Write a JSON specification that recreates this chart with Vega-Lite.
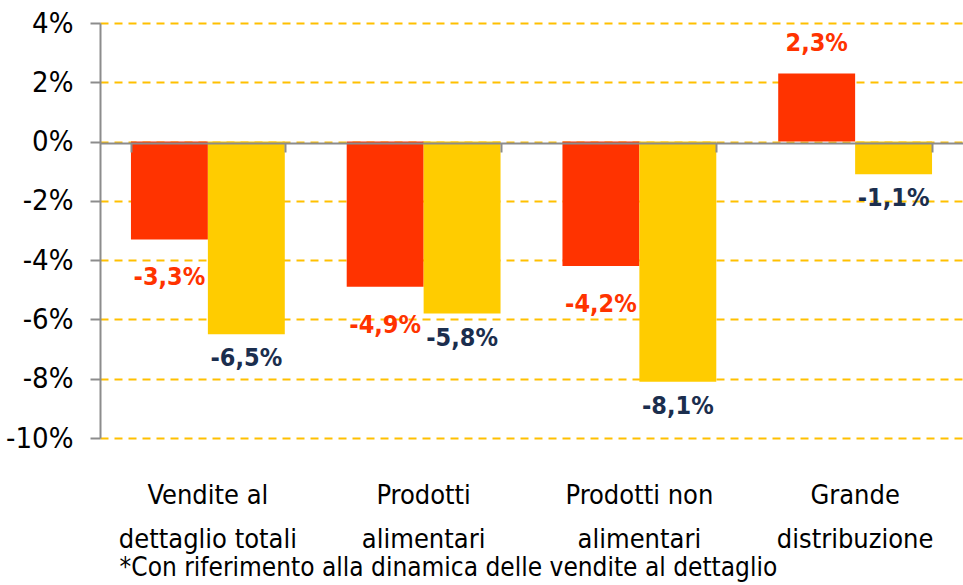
{
  "$schema": "https://vega.github.io/schema/vega-lite/v6.json",
  "width": 863,
  "height": 415,
  "autosize": {"type": "none"},
  "padding": {"left": 100, "top": 23, "right": 0, "bottom": 147},
  "config": {
    "view": {"stroke": null},
    "font": "DejaVu Sans Condensed, sans-serif",
    "locale": {
      "number": {"decimal": ",", "thousands": ".", "grouping": [3], "currency": ["", " €"], "minus": "-", "percent": "%"}
    }
  },
  "title": {
    "text": "*Con riferimento alla dinamica delle vendite al dettaglio",
    "orient": "bottom",
    "anchor": "start",
    "offset": 3,
    "dx": 114,
    "fontSize": 26,
    "fontWeight": "normal",
    "color": "#000000"
  },
  "data": {
    "values": [
      {"categoria": "Vendite al|dettaglio totali", "serie": "serie1", "valore": -0.033},
      {"categoria": "Vendite al|dettaglio totali", "serie": "serie2", "valore": -0.065},
      {"categoria": "Prodotti|alimentari", "serie": "serie1", "valore": -0.049},
      {"categoria": "Prodotti|alimentari", "serie": "serie2", "valore": -0.058},
      {"categoria": "Prodotti non|alimentari", "serie": "serie1", "valore": -0.042},
      {"categoria": "Prodotti non|alimentari", "serie": "serie2", "valore": -0.081},
      {"categoria": "Grande|distribuzione", "serie": "serie1", "valore": 0.023},
      {"categoria": "Grande|distribuzione", "serie": "serie2", "valore": -0.011}
    ]
  },
  "encoding": {
    "x": {
      "field": "categoria",
      "type": "nominal",
      "sort": null,
      "axis": null,
      "scale": {"paddingInner": 0.287, "paddingOuter": 0.1435}
    },
    "xOffset": {"field": "serie", "type": "nominal", "scale": {"paddingInner": 0, "paddingOuter": 0}},
    "y": {
      "field": "valore",
      "type": "quantitative",
      "scale": {"domain": [-0.1, 0.04], "nice": false, "zero": false}
    }
  },
  "layer": [
    {
      "mark": {"type": "bar"},
      "encoding": {
        "x": {
          "field": "categoria",
          "type": "nominal",
          "sort": null,
          "title": null,
          "axis": {
            "orient": "bottom",
            "domain": false,
            "ticks": false,
            "labelAngle": 0,
            "labelFontSize": 27,
            "labelColor": "#000000",
            "labelPadding": 44,
            "labelLineHeight": 44,
            "labelLimit": 0,
            "labelExpr": "split(datum.label, '|')",
            "labelBaseline": "top"
          }
        },
        "y": {
          "field": "valore",
          "type": "quantitative",
          "title": null,
          "axis": {
            "values": [-0.1, -0.08, -0.06, -0.04, -0.02, 0, 0.02, 0.04],
            "format": ".0%",
            "domainColor": "#8c8c8c",
            "domainWidth": 2,
            "tickColor": "#8c8c8c",
            "tickWidth": 2,
            "tickSize": 10,
            "labelFontSize": 29,
            "labelColor": "#000000",
            "labelPadding": 17,
            "grid": true,
            "gridColor": "#FFC000",
            "gridWidth": 2,
            "gridDash": [8, 6]
          }
        },
        "color": {
          "field": "serie",
          "type": "nominal",
          "scale": {"domain": ["serie1", "serie2"], "range": ["#FF3300", "#FFCC00"]},
          "legend": null
        }
      }
    },
    {
      "mark": {"type": "bar", "opacity": 0},
      "encoding": {
        "x": {
          "field": "categoria",
          "type": "nominal",
          "sort": null,
          "title": null,
          "axis": {
            "orient": "bottom",
            "offset": -295,
            "labels": false,
            "domainColor": "#8c8c8c",
            "domainWidth": 2,
            "tickColor": "#8c8c8c",
            "tickWidth": 2,
            "tickSize": 9,
            "tickBand": "extent",
            "zindex": 1
          }
        }
      }
    },
    {
      "transform": [{"filter": "datum.serie == 'serie1' && datum.valore < 0"}],
      "mark": {"type": "text", "dy": 38, "baseline": "middle", "fontSize": 25, "fontWeight": "bold", "color": "#FF3300"},
      "encoding": {"text": {"field": "valore", "type": "quantitative", "format": ".1%"}}
    },
    {
      "transform": [{"filter": "datum.serie == 'serie2' && datum.valore < 0"}],
      "mark": {"type": "text", "dy": 24, "baseline": "middle", "fontSize": 25, "fontWeight": "bold", "color": "#1B2E4E"},
      "encoding": {"text": {"field": "valore", "type": "quantitative", "format": ".1%"}}
    },
    {
      "transform": [{"filter": "datum.valore > 0"}],
      "mark": {"type": "text", "dy": -30, "baseline": "middle", "fontSize": 25, "fontWeight": "bold", "color": "#FF3300"},
      "encoding": {"text": {"field": "valore", "type": "quantitative", "format": ".1%"}}
    }
  ],
  "resolve": {"axis": {"x": "independent"}}
}
